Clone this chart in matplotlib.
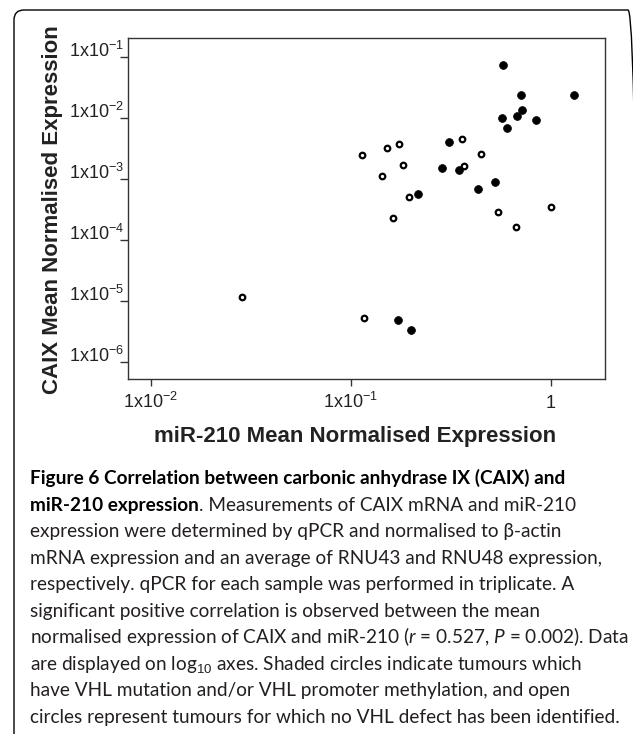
import matplotlib
matplotlib.use('Agg')
import matplotlib.pyplot as plt
from matplotlib.patches import FancyBboxPatch
from matplotlib.transforms import IdentityTransform
from matplotlib import font_manager

# ---------------- data ----------------
# tumours with VHL mutation and/or promoter methylation (filled circles)
vhl_defect_mir210 = [0.578, 0.706, 1.308, 0.719, 0.5675, 0.674, 0.843, 0.600,
                     0.3106, 0.2845, 0.347, 0.527, 0.434, 0.2155, 0.1716, 0.200]
vhl_defect_caix = [0.0740, 0.0235, 0.0238, 0.0135, 0.00986, 0.01063, 0.00935,
                   0.00684, 0.00403, 0.00151, 0.001384, 0.000899, 0.000675,
                   0.000571, 4.78e-6, 3.31e-6]
# tumours with no VHL defect identified (open circles)
no_defect_mir210 = [0.114, 0.1507, 0.1738, 0.3584, 0.448, 0.1823, 0.367, 0.1423,
                    0.1954, 0.162, 0.544, 1.004, 0.668, 0.0287, 0.1164]
no_defect_caix = [0.00244, 0.00325, 0.00369, 0.00451, 0.00259, 0.00171,
                  0.001645, 0.001127, 0.000499, 0.000228, 0.000283, 0.000342,
                  0.000162, 1.17e-5, 5.21e-6]

xtick_values = [1e-2, 1e-1, 1]
xtick_labels = [r'$\mathregular{1x10^{-2}}$', r'$\mathregular{1x10^{-1}}$', '1']
ytick_values = [1e-6, 1e-5, 1e-4, 1e-3, 1e-2, 1e-1]
ytick_labels = [r'$\mathregular{1x10^{-6}}$', r'$\mathregular{1x10^{-5}}$',
                r'$\mathregular{1x10^{-4}}$', r'$\mathregular{1x10^{-3}}$',
                r'$\mathregular{1x10^{-2}}$', r'$\mathregular{1x10^{-1}}$']

x_label = 'miR-210 Mean Normalised Expression'
y_label = 'CAIX Mean Normalised Expression'

caption_bold_1 = 'Figure 6 Correlation between carbonic anhydrase IX (CAIX) and'
caption_bold_2 = 'miR-210 expression'
caption_rest_2 = '. Measurements of CAIX mRNA and miR-210'
caption_lines = [
    'expression were determined by qPCR and normalised to \u03b2-actin',
    'mRNA expression and an average of RNU43 and RNU48 expression,',
    'respectively. qPCR for each sample was performed in triplicate. A',
    'significant positive correlation is observed between the mean',
    r'normalised expression of CAIX and miR-210 ($\mathit{r}$ = 0.527, $\mathit{P}$ = 0.002). Data',
    r'are displayed on log$_{10}$ axes. Shaded circles indicate tumours which',
    'have VHL mutation and/or VHL promoter methylation, and open',
    'circles represent tumours for which no VHL defect has been identified.',
]

# ---------------- fonts ----------------
names = {f.name for f in font_manager.fontManager.ttflist}
cap_font = 'Liberation Sans Narrow' if 'Liberation Sans Narrow' in names else 'Lato'
plt.rcParams['font.family'] = ['Liberation Sans', 'DejaVu Sans']
plt.rcParams['mathtext.fontset'] = 'custom'
plt.rcParams['mathtext.rm'] = 'Liberation Sans'
plt.rcParams['mathtext.it'] = cap_font + ':italic'
plt.rcParams['mathtext.bf'] = 'Liberation Sans:bold'

W, H = 633, 734
fig = plt.figure(figsize=(W / 100, H / 100), dpi=100)
fig.patch.set_facecolor('white')

ax_l, ax_r, ax_t, ax_b = 127.7, 604.5, 38.3, 379.0
ax = fig.add_axes([ax_l / W, 1 - ax_b / H, (ax_r - ax_l) / W, (ax_b - ax_t) / H])
ax.set_xscale('log')
ax.set_yscale('log')
ax.set_xlim(10 ** -2.115, 10 ** 0.267)
ax.set_ylim(10 ** -6.284, 10 ** -0.693)

ax.scatter(no_defect_mir210, no_defect_caix, s=16, facecolors='white',
           edgecolors='black', linewidths=1.6, zorder=3)
ax.scatter(vhl_defect_mir210, vhl_defect_caix, s=32, facecolors='black',
           edgecolors='black', linewidths=0.5, zorder=3)

ax.minorticks_off()
ax.set_xticks(xtick_values)
ax.set_xticklabels(xtick_labels, va='baseline')
ax.set_yticks(ytick_values)
ax.set_yticklabels(ytick_labels, va='baseline')
ax.minorticks_off()
ax.tick_params(axis='x', length=5, width=1, pad=16.0, labelsize=13,
               colors='#333333', labelcolor='#222222')
ax.tick_params(axis='y', length=6, width=1, pad=-3.6, labelsize=13,
               colors='#333333', labelcolor='#222222')
for sp in ax.spines.values():
    sp.set_color('#333333')
    sp.set_linewidth(1.0)

fig.text(52.5 / W, 1 - 210 / H, y_label, rotation=90, ha='center', va='center',
         fontsize=16, fontweight='bold', color='#222222')
fig.text(355.5 / W, 1 - 436.7 / H, x_label, ha='center', va='center',
         fontsize=16, fontweight='bold', color='#222222')

# ---------------- caption ----------------
cap_x = 30.3 / W
base0 = 484.0
step = 26.55
cap_size = 13
cap_color = '#231f20'
fam = [cap_font, 'DejaVu Sans']
texts = []
t1 = fig.text(cap_x, 1 - base0 / H, caption_bold_1, ha='left', va='baseline',
              fontsize=cap_size, fontweight='bold', family=fam, color='black')
t2 = fig.text(cap_x, 1 - (base0 + step) / H, caption_bold_2, ha='left', va='baseline',
              fontsize=cap_size, fontweight='bold', family=fam, color='black')
t2b = fig.text(0, 0, caption_rest_2, ha='left', va='baseline',
               fontsize=cap_size, family=fam, color=cap_color)
texts += [t1, t2, t2b]
line_texts = []
for i, s in enumerate(caption_lines):
    t = fig.text(cap_x, 1 - (base0 + step * (i + 2)) / H, s, ha='left', va='baseline',
                 fontsize=cap_size, family=fam, color=cap_color)
    line_texts.append(t)
texts += line_texts

# fit caption width to the reference (longest line ~587 px)
r = fig.canvas.get_renderer()
w = line_texts[-1].get_window_extent(r).width
factor = 587.0 / w
for t in texts:
    t.set_fontsize(cap_size * factor)
fig.canvas.draw()
bb = t2.get_window_extent(r)
inv = fig.transFigure.inverted()
x_end = inv.transform((bb.x1, 0))[0]
t2b.set_position((x_end, 1 - (base0 + step) / H))

# rounded figure frame
frame = FancyBboxPatch((14, -30), 624, 754, boxstyle='round,pad=0,rounding_size=10',
                       transform=IdentityTransform(), fill=False,
                       edgecolor='black', linewidth=1.0)
fig.add_artist(frame)

fig.savefig('out.png', dpi=100)
